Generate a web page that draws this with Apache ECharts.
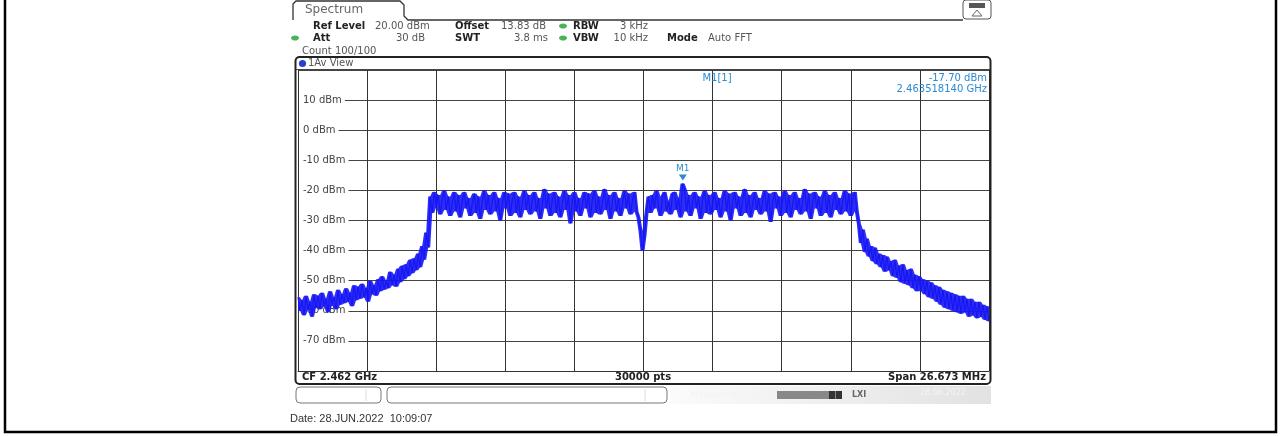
<!DOCTYPE html>
<html><head><meta charset="utf-8">
<script src="https://cdn.jsdelivr.net/npm/echarts@6/dist/echarts.min.js"></script>
<style>html,body{margin:0;padding:0;background:#fff}#c{width:1281px;height:436px}</style>
</head><body><div id="c"></div><script>
// ---- data ----
const centerFreqLabel = 'CF 2.462 GHz';
const spanLabel = 'Span 26.673 MHz';
const pointsLabel = '30000 pts';
const spanMHz = 26.673;
const yMin = -80, yMax = 20, yStep = 10;
const markerFreqOffsetMHz = 1.51814;   // 2.463518140 GHz - 2.462 GHz
const markerLevel = -17.70;

const leftSkirt = [
  -55.5, -60.0, -56.5, -61.5, -55.0, -59.5, -57.0, -62.0, -54.5, -59.0,
  -55.0, -59.5, -54.0, -58.5, -56.0, -60.5, -53.5, -58.0, -55.5, -59.5,
  -53.0, -58.0, -54.5, -57.5, -52.5, -57.0, -54.0, -58.5, -51.5, -56.5,
  -52.0, -56.0, -51.0, -55.5, -52.5, -57.0, -50.0, -54.5, -51.5, -55.0,
  -49.5, -53.5, -48.5, -53.0, -50.0, -52.5, -47.0, -51.5, -48.0, -52.0,
  -46.0, -50.5, -45.0, -49.5, -44.5, -48.5, -43.0, -47.5, -42.5, -46.5,
  -41.0, -45.5, -38.5, -43.0, -34.0, -39.0
];
const leftBand = [
  -22.0, -27.5, -20.5, -25.5, -21.5,  -28.0, -23.0, -20.0, -26.5, -22.0,
  -28.5, -24.0, -20.5, -27.0, -21.5,  -29.0, -23.5, -20.5, -26.0, -22.5,
  -28.5, -24.5, -21.0, -27.5, -22.0,  -29.5, -23.5, -20.0, -26.5, -21.5,
  -28.0, -24.0, -20.5, -27.0, -22.5,  -30.0, -24.5, -20.5, -26.0, -21.0,
  -28.5, -23.0, -20.5, -27.5, -22.0,  -29.0, -24.0, -20.0, -26.5, -21.5,
  -28.0, -23.5, -20.5, -27.0, -22.5,  -29.5, -24.5, -19.5, -26.0, -21.0,
  -28.5, -23.0, -20.5, -27.5, -22.0,  -29.0, -24.0, -20.0, -26.5, -21.5,
  -31.0, -23.5, -20.5, -27.0, -22.5,  -28.5, -24.5, -20.5, -26.0, -21.0,
  -29.0, -23.0, -20.0, -27.5, -22.0,  -28.0, -24.0, -19.5, -26.5, -21.5,
  -29.5, -23.5, -20.5, -27.0, -22.5,  -28.5, -24.5, -20.0, -26.0, -21.0,
  -28.0, -23.5, -20.5, -27.0
];
const centerDip = [-29.0, -33.5, -40.0, -35.0, -27.5, -22.0];
const rightBand = [
  -27.5, -21.5, -26.0, -20.0, -25.5,  -28.5, -22.0, -20.5, -27.0, -23.5,
  -28.0, -21.0, -20.5, -26.5, -22.5,  -29.0, -17.7, -19.5, -27.0, -21.5,
  -28.5, -24.0, -20.5, -26.0, -22.0,  -29.5, -23.0, -20.0, -27.5, -21.5,
  -28.0, -24.5, -20.5, -26.5, -22.5,  -29.0, -23.5, -20.0, -27.0, -21.0,
  -30.0, -24.0, -20.5, -26.0, -22.0,  -28.5, -23.0, -19.5, -27.5, -21.5,
  -29.0, -24.5, -20.5, -26.5, -22.5,  -28.0, -23.5, -20.0, -27.0, -21.0,
  -30.5, -24.0, -20.5, -26.0, -22.0,  -28.5, -23.0, -20.0, -27.5, -21.5,
  -29.0, -24.5, -20.5, -26.5, -22.5,  -28.0, -23.5, -19.5, -27.0, -21.0,
  -29.5, -24.0, -20.5, -26.0, -22.0,  -28.5, -23.0, -20.0, -27.5, -21.5,
  -29.0, -24.5, -20.5, -26.5, -22.5,  -28.0, -23.5, -20.0, -27.0, -21.0,
  -28.5, -22.5, -20.5, -27.0
];
const rightSkirt = [
  -31.0, -37.5, -33.0, -40.5, -36.0, -42.0, -38.5, -43.5, -39.0, -44.5,
  -41.0, -45.5, -41.5, -47.0, -42.0, -46.5, -43.5, -48.5, -43.0, -49.0,
  -45.0, -50.5, -44.5, -51.0, -46.5, -51.5, -46.0, -52.5, -48.0, -53.5,
  -48.5, -53.5, -49.5, -54.5, -50.0, -55.5, -50.5, -56.0, -51.5, -57.0,
  -52.0, -58.0, -53.0, -59.0, -53.5, -59.5, -54.0, -60.0, -54.5, -60.5,
  -55.0, -61.0, -55.0, -60.5, -56.0, -62.0, -56.0, -61.5, -57.0, -62.5,
  -57.0, -62.0, -58.0, -63.0, -58.5, -63.5
];

// ---- build ----
const levels = leftSkirt.concat(leftBand, centerDip, rightBand, rightSkirt);
const half = spanMHz / 2;
const div = spanMHz / 10;
const stepX = spanMHz / (levels.length - 1);
const trace = levels.map((v, i) => [-half + i * stepX, v]);
// local max / min of neighbouring samples: the envelope the analyzer's trace fills
const envHi = trace.map((p, i) => [p[0], Math.max(...levels.slice(Math.max(0, i - 1), i + 2))]);
const envLo = trace.map((p, i) => [p[0], Math.min(...levels.slice(Math.max(0, i - 1), i + 2))]);

const F = '"DejaVu Sans", Verdana, sans-serif';
const txt = (x, y, text, o = {}) => ({
  type: 'text', x, y, silent: true, z: o.z || 10,
  style: { text, fill: o.fill || '#555', font: (o.bold ? 'bold ' : '') + (o.size || 10) + 'px ' + (o.family || F),
           align: o.align || 'left', verticalAlign: 'middle' }
});
const dot = (cx, cy, color, rx = 4, ry = 2.6) => ({
  type: 'ellipse', silent: true, z: 10, shape: { cx, cy, rx, ry }, style: { fill: color }
});
const green = '#49b35c';
const mBlue = '#2a8bd0';
const traceBlue = '#1616f5';

const graphic = [
  { type: 'rect', silent: true, z: 1, shape: { x: 5, y: -5, width: 1271, height: 437 }, style: { fill: 'none', stroke: '#000', lineWidth: 2.5 } },
  { type: 'polyline', silent: true, z: 10, shape: { points: [[293,20],[293,4],[296,1],[400,1],[404,5],[404,16],[408,20],[963,20]] }, style: { fill: 'none', stroke: '#333', lineWidth: 1.3 } },
  txt(305, 10, 'Spectrum', { size: 12, fill: '#666' }),
  { type: 'rect', silent: true, z: 10, shape: { x: 963, y: 0, width: 28, height: 19, r: 3 }, style: { fill: '#fff', stroke: '#555', lineWidth: 1 } },
  { type: 'rect', silent: true, z: 11, shape: { x: 969, y: 3, width: 16, height: 5 }, style: { fill: '#555' } },
  { type: 'polygon', silent: true, z: 11, shape: { points: [[977,10],[972,16],[982,16]] }, style: { fill: 'none', stroke: '#666', lineWidth: 1 } },
  txt(313, 26, 'Ref Level', { bold: true, fill: '#222' }),
  txt(375, 26, '20.00 dBm'),
  txt(455, 26, 'Offset', { bold: true, fill: '#222' }),
  txt(501, 26, '13.83 dB'),
  dot(563, 26, green),
  txt(573, 26, 'RBW', { bold: true, fill: '#222' }),
  txt(648, 26, '3 kHz', { align: 'right' }),
  dot(295, 38, green),
  txt(313, 38, 'Att', { bold: true, fill: '#222' }),
  txt(425, 38, '30 dB', { align: 'right' }),
  txt(455, 38, 'SWT', { bold: true, fill: '#222' }),
  txt(548, 38, '3.8 ms', { align: 'right' }),
  dot(563, 38, green),
  txt(573, 38, 'VBW', { bold: true, fill: '#222' }),
  txt(648, 38, '10 kHz', { align: 'right' }),
  txt(667, 38, 'Mode', { bold: true, fill: '#222' }),
  txt(708, 38, 'Auto FFT'),
  txt(302, 51, 'Count 100/100'),
  { type: 'rect', silent: true, z: 10, shape: { x: 295.5, y: 57, width: 695, height: 327, r: 4 }, style: { fill: 'none', stroke: '#222', lineWidth: 2 } },
  { type: 'line', silent: true, z: 10, shape: { x1: 296, y1: 69.5, x2: 990, y2: 69.5 }, style: { stroke: '#444', lineWidth: 1 } },
  { type: 'circle', silent: true, z: 10, shape: { cx: 302.5, cy: 63.5, r: 3.6 }, style: { fill: '#2840d0' } },
  txt(308, 63.5, '1Av View', { fill: '#555' }),
  txt(717, 78, 'M1[1]', { fill: mBlue, align: 'center' }),
  txt(987, 78, '-17.70 dBm', { fill: mBlue, align: 'right' }),
  txt(987, 89, '2.463518140 GHz', { fill: mBlue, align: 'right' }),
  txt(302, 377, centerFreqLabel, { bold: true, fill: '#222' }),
  txt(643, 377, pointsLabel, { bold: true, fill: '#222', align: 'center' }),
  txt(986, 377, spanLabel, { bold: true, fill: '#222', align: 'right' }),
  { type: 'rect', silent: true, z: 10, shape: { x: 296, y: 387, width: 85, height: 16, r: 4 }, style: { fill: '#fff', stroke: '#777', lineWidth: 1 } },
  { type: 'line', silent: true, z: 10, shape: { x1: 366, y1: 389, x2: 366, y2: 401 }, style: { stroke: '#ddd', lineWidth: 1 } },
  { type: 'rect', silent: true, z: 10, shape: { x: 387, y: 387, width: 280, height: 16, r: 4 }, style: { fill: '#fff', stroke: '#777', lineWidth: 1 } },
  { type: 'line', silent: true, z: 10, shape: { x1: 645, y1: 389, x2: 645, y2: 401 }, style: { stroke: '#ddd', lineWidth: 1 } },
  { type: 'rect', silent: true, z: 9, shape: { x: 670, y: 386, width: 321, height: 18 },
    style: { fill: new echarts.graphic.LinearGradient(0, 0, 1, 0, [{ offset: 0, color: '#fbfbfb' }, { offset: 1, color: '#e2e2e2' }]) } },
  txt(690, 395, 'Measuring...', { fill: '#f2f2f2', size: 9 }),
  { type: 'rect', silent: true, z: 10, shape: { x: 777, y: 391, width: 65, height: 8 }, style: { fill: '#888' } },
  { type: 'rect', silent: true, z: 11, shape: { x: 829, y: 391, width: 6, height: 8 }, style: { fill: '#333' } },
  { type: 'rect', silent: true, z: 11, shape: { x: 836, y: 391, width: 6, height: 8 }, style: { fill: '#333' } },
  txt(852, 395, 'LXI', { fill: '#666', size: 8, bold: true }),
  txt(920, 393, '28.06.2022', { fill: '#f4f4f4', size: 8 }),
  txt(290, 419, 'Date: 28.JUN.2022  10:09:07', { fill: '#333', size: 11, family: '"Liberation Sans", Arial, sans-serif' })
];

const chart = echarts.init(document.getElementById('c'), null, { renderer: 'canvas' });
chart.setOption({
  animation: false,
  backgroundColor: '#fff',
  grid: { left: 298, right: 292, top: 70, bottom: 65 },
  xAxis: {
    type: 'value', min: -half, max: half, interval: div,
    axisLine: { show: true, onZero: false, lineStyle: { color: '#333', width: 1 } },
    axisTick: { show: false }, axisLabel: { show: false },
    splitLine: { show: true, lineStyle: { color: '#333', width: 1 } }
  },
  yAxis: {
    type: 'value', min: yMin, max: yMax, interval: yStep,
    axisLine: { show: true, lineStyle: { color: '#333', width: 1 } },
    axisTick: { show: false },
    axisLabel: {
      inside: true, margin: 1, showMinLabel: false, showMaxLabel: false,
      formatter: v => v + ' dBm', color: '#444', fontSize: 10, fontFamily: 'DejaVu Sans',
      backgroundColor: '#fff', padding: [1, 3, 1, 4]
    },
    splitLine: { show: true, lineStyle: { color: '#444', width: 1 } }
  },
  series: [{
    type: 'custom', z: 4, silent: true,
    data: [0],
    renderItem: (params, api) => {
      const pts = envHi.map(p => api.coord(p)).concat(envLo.slice().reverse().map(p => api.coord(p)));
      return { type: 'polygon', shape: { points: pts }, style: { fill: traceBlue, opacity: 0.9 } };
    }
  }, {
    type: 'line', data: trace, showSymbol: false, z: 5,
    lineStyle: { color: traceBlue, width: 1.2 },
    markPoint: {
      symbol: 'triangle', symbolRotate: 180, symbolSize: [8, 6], symbolOffset: [0, -6],
      itemStyle: { color: mBlue },
      label: { show: true, position: 'top', distance: 1, formatter: 'M1', color: mBlue, fontSize: 9, fontFamily: 'DejaVu Sans' },
      data: [{ coord: [markerFreqOffsetMHz, markerLevel] }]
    }
  }],
  graphic
});
</script></body></html>
